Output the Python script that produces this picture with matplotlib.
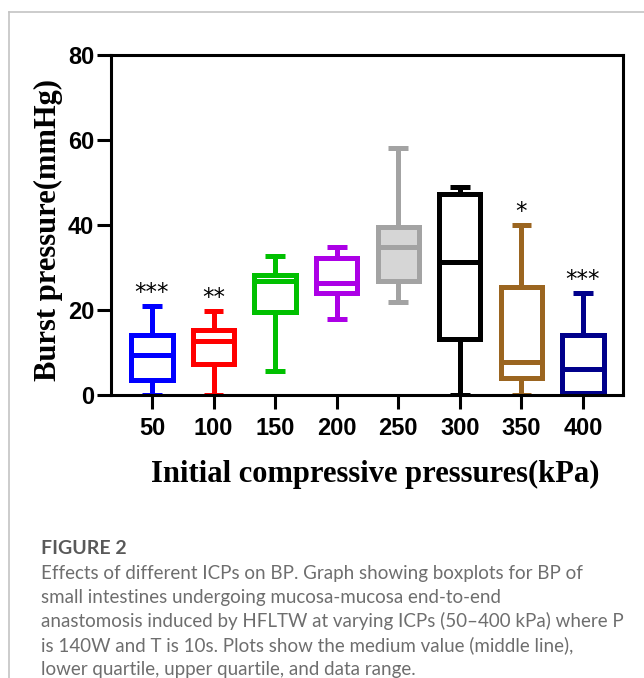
import matplotlib
matplotlib.use("Agg")
import matplotlib.pyplot as plt
from matplotlib.lines import Line2D

# data (mmHg)
groups = ["50", "100", "150", "200", "250", "300", "350", "400"]
whislo = [0.0, 0.0, 5.6, 17.8, 21.8, 0.0, 0.0, 0.0]
q1 = [3.5, 7.2, 19.5, 23.9, 26.8, 13.1, 4.0, 0.5]
med = [9.3, 12.8, 26.9, 26.3, 34.8, 31.3, 7.8, 6.2]
q3 = [14.2, 15.2, 28.2, 32.3, 39.6, 47.3, 25.3, 14.0]
whishi = [20.9, 19.8, 32.8, 34.8, 58.0, 48.9, 39.9, 23.9]
stars = ["***", "**", "", "", "", "", "*", "***"]
colors = ["#0000ff", "#ff0000", "#00c000", "#ac00e6", "#a3a3a3",
          "#000000", "#9b6520", "#00008b"]
faces = ["white", "white", "white", "white", "#d6d6d6",
         "white", "white", "white"]

caption_title = "FIGURE 2"
caption_lines = [
    "Effects of different ICPs on BP. Graph showing boxplots for BP of",
    "small intestines undergoing mucosa-mucosa end-to-end",
    "anastomosis induced by HFLTW at varying ICPs (50\u2013400 kPa) where P",
    "is 140W and T is 10s. Plots show the medium value (middle line),",
    "lower quartile, upper quartile, and data range.",
]

fig = plt.figure(figsize=(6.44, 6.78), dpi=100)
ax = fig.add_axes([0.1724, 0.4174, 0.795, 0.5015])

stats = []
for i in range(len(groups)):
    stats.append(dict(whislo=whislo[i], q1=q1[i], med=med[i],
                      q3=q3[i], whishi=whishi[i], fliers=[]))

pos = list(range(1, len(groups) + 1))
lw = 3.6
bp = ax.bxp(stats, positions=pos, widths=0.67, capwidths=0.32,
            patch_artist=True, showfliers=False, manage_ticks=False)
for i in range(len(groups)):
    c = colors[i]
    bp["boxes"][i].set(facecolor=faces[i], edgecolor=c, linewidth=lw)
    bp["medians"][i].set(color=c, linewidth=lw)
    for k in (2 * i, 2 * i + 1):
        bp["whiskers"][k].set(color=c, linewidth=lw, solid_capstyle="butt")
        bp["caps"][k].set(color=c, linewidth=lw, solid_capstyle="butt")
    if stars[i]:
        ax.annotate(stars[i], (pos[i], whishi[i]),
                    xytext=(0, 1.5), textcoords="offset points",
                    ha="center", va="bottom", fontsize=16.5,
                    family="DejaVu Sans")

ax.set_xlim(0.335, 8.65)
ax.set_ylim(0, 80)
ax.set_yticks([0, 20, 40, 60, 80])
ax.set_xticks(pos)
ax.set_xticklabels(groups)
for s in ax.spines.values():
    s.set_linewidth(2.2)
    s.set_color("black")
ax.tick_params(axis="both", length=10, width=2.2, direction="out",
               labelsize=17, color="black")
ax.tick_params(axis="y", pad=2)
ax.tick_params(axis="x", pad=6)
for lab in ax.get_xticklabels() + ax.get_yticklabels():
    lab.set_family("Liberation Sans")
    lab.set_fontweight("bold")

ax.set_xlabel("Initial compressive pressures(kPa)", family="Liberation Serif",
              fontweight="bold", fontsize=22, va="center")
ax.xaxis.set_label_coords(0.516, -0.235)
ax.set_ylabel("Burst pressure(mmHg)", family="Liberation Serif",
              fontweight="bold", fontsize=22, va="center")
ax.yaxis.set_label_coords(-0.123, 0.485)

# panel frame
fig.add_artist(Line2D([9 / 644, 1.0], [1 - 12 / 678, 1 - 12 / 678],
                      color="#c4c4c4", lw=1.2))
fig.add_artist(Line2D([9 / 644, 9 / 644], [0, 1 - 12 / 678],
                      color="#c4c4c4", lw=1.2))

fig.text(41 / 644, 1 - 548 / 678, caption_title, family="Lato",
         fontsize=14, fontweight="bold", color="#595959", va="center")
for j, line in enumerate(caption_lines):
    fig.text(41 / 644, 1 - (573 + 24 * j) / 678, line, family="Lato",
             fontsize=13.5, color="#6e6e6e", va="center")

fig.savefig("out.png", dpi=100)
